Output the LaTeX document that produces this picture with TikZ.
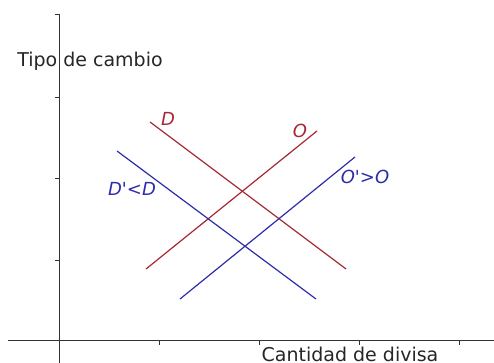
\documentclass[tikz,border=0pt]{standalone}
\usepackage{fontspec}
\setmainfont{DejaVu Sans}
\begin{document}
\begin{tikzpicture}[x=1pt,y=1pt,
  axis/.style={draw=black!80, line width=1pt},
  tickmark/.style={draw=black!80, line width=0.8pt},
  redline/.style={draw=redc, line width=1.2pt},
  blueline/.style={draw=bluec, line width=1.2pt},
  redlab/.style={text=redc, font=\itshape\fontsize{18}{20}\selectfont, inner sep=0pt},
  bluelab/.style={text=bluec, font=\itshape\fontsize{18}{20}\selectfont, inner sep=0pt},
  axlab/.style={text=black!85, font=\fontsize{19}{21}\selectfont, inner sep=0pt, anchor=base}]
\definecolor{redc}{RGB}{165,40,50}
\definecolor{bluec}{RGB}{45,45,170}
\useasboundingbox (0,0) rectangle (494,363);
% axes
\coordinate (yb) at (59,0);
\coordinate (yt) at (59,349);
\coordinate (xl) at (8,22);
\coordinate (xr) at (494,22);
\draw[axis] (yb) -- (yt);
\draw[axis] (xl) -- (xr);
% y ticks
\foreach \y in {349,266,185,103} {\draw[tickmark] (55,\y) -- (59,\y);}
% x ticks
\foreach \x in {59,159,259,359,459} {\draw[tickmark] (\x,22) -- (\x,18);}
% curves
\coordinate (d1) at (150,241); \coordinate (d2) at (346,94);
\coordinate (o1) at (146,94); \coordinate (o2) at (317,232);
\coordinate (dp1) at (117,212); \coordinate (dp2) at (316,64);
\coordinate (op1) at (180,64); \coordinate (op2) at (355,206);
\draw[redline] (d1) -- (d2);
\draw[redline] (o1) -- (o2);
\draw[blueline] (dp1) -- (dp2);
\draw[blueline] (op1) -- (op2);
% labels
\node[redlab] (lD) at (168,244) {D};
\node[redlab] (lO) at (300,232) {O};
\node[bluelab] (lDp) at (132,174) {D\textquotesingle{}<D};
\node[bluelab] (lOp) at (365,186) {O\textquotesingle{}>O};
\node[axlab] (ly) at (90,296) {Tipo de cambio};
\node[axlab] (lx) at (350,1) {Cantidad de divisa};
\end{tikzpicture}
\end{document}
